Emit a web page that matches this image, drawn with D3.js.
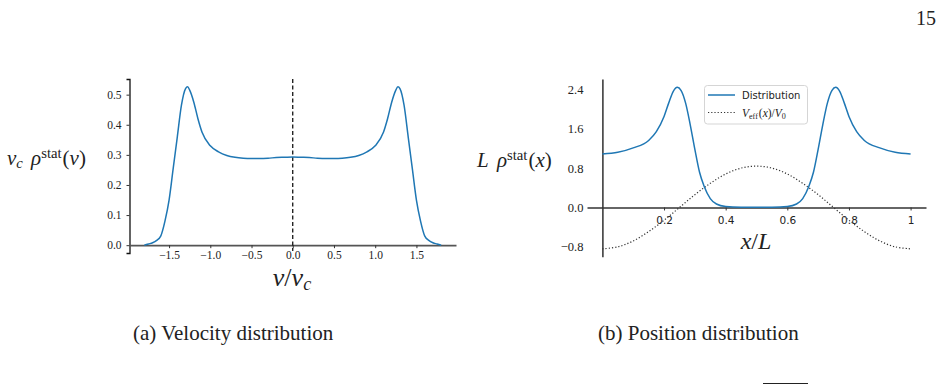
<!DOCTYPE html>
<meta charset="utf-8">
<script src="https://d3js.org/d3.v7.min.js"></script>
<head>
<style>
  body { margin: 0; background: #fff; }
  svg text { fill: #222; }
  .serif { font-family: "Liberation Serif", "DejaVu Serif", serif; }
  .sans { font-family: "DejaVu Sans", sans-serif; }
</style>
</head>
<body>
<div id="viz"></div>
<script>
// ---- data ----
// (a) velocity distribution
const vGrid = [-1.8, -1.75, -1.7, -1.65, -1.6, -1.55, -1.5, -1.45, -1.4, -1.35, -1.3, -1.275, -1.25, -1.2, -1.15, -1.1, -1.0, -0.9, -0.8, -0.7, -0.6, -0.5, -0.4, -0.3, -0.2, -0.1, 0,
               0.1, 0.2, 0.3, 0.4, 0.5, 0.6, 0.7, 0.8, 0.9, 1.0, 1.1, 1.15, 1.2, 1.25, 1.275, 1.3, 1.35, 1.4, 1.45, 1.5, 1.55, 1.6, 1.65, 1.7, 1.75, 1.8];
const vRho  = [0.0, 0.004, 0.008, 0.016, 0.031, 0.08, 0.15, 0.255, 0.36, 0.465, 0.52, 0.526, 0.515, 0.475, 0.42, 0.375, 0.33, 0.31, 0.298, 0.292, 0.289, 0.288, 0.288, 0.289, 0.291, 0.292, 0.293,
               0.292, 0.291, 0.289, 0.288, 0.288, 0.289, 0.292, 0.298, 0.31, 0.33, 0.375, 0.42, 0.475, 0.515, 0.526, 0.52, 0.465, 0.36, 0.255, 0.15, 0.08, 0.031, 0.016, 0.008, 0.004, 0.0];
const vTicksX = [-1.5, -1.0, -0.5, 0.0, 0.5, 1.0, 1.5];
const vTicksY = [0.0, 0.1, 0.2, 0.3, 0.4, 0.5];

// (b) position distribution
const xGrid = [0, 0.05, 0.1, 0.15, 0.175, 0.2, 0.215, 0.23, 0.243, 0.255, 0.27, 0.285, 0.3, 0.315, 0.33, 0.35, 0.37, 0.4, 0.45, 0.5,
               0.55, 0.6, 0.63, 0.65, 0.67, 0.685, 0.7, 0.715, 0.73, 0.745, 0.757, 0.77, 0.785, 0.8, 0.825, 0.85, 0.9, 0.95, 1.0];
const xRho  = [1.085, 1.12, 1.21, 1.36, 1.54, 1.85, 2.12, 2.36, 2.44, 2.38, 2.12, 1.68, 1.18, 0.72, 0.43, 0.18, 0.07, 0.02, 0.005, 0.003,
               0.005, 0.02, 0.07, 0.18, 0.43, 0.72, 1.18, 1.68, 2.12, 2.38, 2.44, 2.36, 2.12, 1.85, 1.54, 1.36, 1.21, 1.12, 1.085];
const vGridX = [0, 0.05, 0.1, 0.15, 0.2, 0.25, 0.3, 0.35, 0.4, 0.45, 0.5, 0.55, 0.6, 0.65, 0.7, 0.75, 0.8, 0.85, 0.9, 0.95, 1.0];
const vEff   = [-0.84, -0.80, -0.68, -0.49, -0.26, 0.0, 0.26, 0.49, 0.68, 0.80, 0.84, 0.80, 0.68, 0.49, 0.26, 0.0, -0.26, -0.49, -0.68, -0.80, -0.84];
const xTicksX = [0.2, 0.4, 0.6, 0.8, 1];
const xTicksY = [-0.8, 0.0, 0.8, 1.6, 2.4];

const blue = "#1f77b4";

const svg = d3.select("#viz").append("svg")
  .attr("width", 940).attr("height", 385);

// small helper for math-ish labels: parts = [text, style] list
function mathText(g, x, y, size, parts, anchor) {
  const t = g.append("text").attr("class", "serif")
    .attr("x", x).attr("y", y)
    .attr("font-size", size)
    .attr("text-anchor", anchor || "start");
  parts.forEach(p => {
    const s = t.append("tspan").text(p.t);
    if (p.i) s.attr("font-style", "italic");
    if (p.sub) s.attr("baseline-shift", "-22%").attr("font-size", size * 0.7);
    if (p.sup) s.attr("baseline-shift", "45%").attr("font-size", size * 0.7);
    if (p.dx) s.attr("dx", p.dx);
  });
  return t;
}

// ================= (a) velocity =================
const xa = d3.scaleLinear().domain([-1.98, 1.98]).range([129.5, 456]);
const ya = d3.scaleLinear().domain([-0.026, 0.552]).range([253, 79]);

const ga = svg.append("g");

// left spine
const axL = ga.append("g").attr("transform", `translate(${xa.range()[0]},0)`)
  .call(d3.axisLeft(ya).tickValues(vTicksY).tickFormat(d3.format(".1f")).tickSize(3).tickPadding(5));
axL.select(".domain").attr("stroke", "#111").attr("stroke-width", 1.3);
axL.selectAll(".tick text").attr("class", "serif").attr("font-size", 11.5).attr("fill", "#333");
axL.selectAll(".tick line").attr("stroke", "#333");

// bottom axis at y = 0
const axB = ga.append("g").attr("transform", `translate(0,${ya(0)})`)
  .call(d3.axisBottom(xa).tickValues(vTicksX).tickFormat(d3.format(".1f")).tickSize(3).tickPadding(3).tickSizeOuter(0));
axB.select(".domain").attr("stroke", "#555").attr("stroke-width", 1.8);
axB.selectAll(".tick text").attr("class", "serif").attr("font-size", 11.5).attr("fill", "#333");
axB.selectAll(".tick line").attr("stroke", "#333");

// dashed line at v = 0
ga.append("line")
  .attr("x1", xa(0)).attr("x2", xa(0))
  .attr("y1", ya.range()[1]).attr("y2", ya.range()[0] - 2)
  .attr("stroke", "#000").attr("stroke-width", 1.2).attr("stroke-dasharray", "4,2.5");

ga.append("path")
  .datum(vGrid.map((v, i) => [v, vRho[i]]))
  .attr("fill", "none").attr("stroke", blue).attr("stroke-width", 1.5)
  .attr("d", d3.line().x(d => xa(d[0])).y(d => ya(d[1])).curve(d3.curveMonotoneX));

mathText(ga, 292, 286, 26, [{t: "v", i: 1}, {t: "/"}, {t: "v", i: 1}, {t: "c", i: 1, sub: 1}], "middle");
mathText(ga, 7, 165, 21, [{t: "v", i: 1}, {t: "c", i: 1, sub: 1}, {t: " ", dx: 3}, {t: "ρ", i: 1}, {t: "stat", sup: 1}, {t: "(", dx: 1}, {t: "v", i: 1}, {t: ")"}]);

// ================= (b) position =================
const xb = d3.scaleLinear().domain([-0.05, 1.05]).range([587, 926]);
const yb = d3.scaleLinear().domain([-1.0, 2.61]).range([256.7, 79]);

const gb = svg.append("g");

const byL = gb.append("g").attr("transform", `translate(${xb(0)},0)`)
  .call(d3.axisLeft(yb).tickValues(xTicksY).tickFormat(d3.format(".1f")).tickSize(0).tickPadding(19));
byL.select(".domain").attr("stroke", "#111").attr("stroke-width", 1.3);
byL.selectAll(".tick text").attr("class", "serif").attr("font-size", 12.5).attr("fill", "#333");

const byB = gb.append("g").attr("transform", `translate(0,${yb(0)})`)
  .call(d3.axisBottom(xb).tickValues(xTicksX).tickFormat(d => d === 1 ? "1" : d3.format(".1f")(d)).tickSize(3).tickPadding(6).tickSizeOuter(0));
byB.select(".domain").attr("stroke", "#333").attr("stroke-width", 1.5);
byB.selectAll(".tick text").attr("class", "sans").attr("font-size", 10.5).attr("fill", "#444");
byB.selectAll(".tick line").attr("stroke", "#333");

gb.append("path")
  .datum(vGridX.map((x, i) => [x, vEff[i]]))
  .attr("fill", "none").attr("stroke", "#333").attr("stroke-width", 1.2)
  .attr("stroke-dasharray", "1.2,2")
  .attr("d", d3.line().x(d => xb(d[0])).y(d => yb(d[1])).curve(d3.curveCatmullRom));

gb.append("path")
  .datum(xGrid.map((x, i) => [x, xRho[i]]))
  .attr("fill", "none").attr("stroke", blue).attr("stroke-width", 1.5)
  .attr("d", d3.line().x(d => xb(d[0])).y(d => yb(d[1])).curve(d3.curveMonotoneX));

// legend
const lg = gb.append("g");
lg.append("rect").attr("x", 704.5).attr("y", 85.5).attr("width", 103).attr("height", 38.5)
  .attr("rx", 3).attr("fill", "#fff").attr("fill-opacity", 0.8)
  .attr("stroke", "#d5d5d5").attr("stroke-width", 1);
lg.append("line").attr("x1", 708).attr("x2", 735).attr("y1", 95).attr("y2", 95)
  .attr("stroke", blue).attr("stroke-width", 1.5);
lg.append("text").attr("class", "sans").attr("x", 742).attr("y", 98.8)
  .attr("font-size", 10).attr("fill", "#222").text("Distribution");
lg.append("line").attr("x1", 708).attr("x2", 735).attr("y1", 112.5).attr("y2", 112.5)
  .attr("stroke", "#333").attr("stroke-width", 1.2).attr("stroke-dasharray", "1.2,2");
mathText(lg, 742, 116.5, 11.5, [{t: "V", i: 1}, {t: "eff", sub: 1}, {t: "(", dx: 1}, {t: "x", i: 1}, {t: ")/"}, {t: "V", i: 1}, {t: "0", sub: 1}]);

mathText(gb, 756, 249, 24, [{t: "x", i: 1}, {t: "/"}, {t: "L", i: 1}], "middle");
mathText(gb, 477, 167, 21, [{t: "L", i: 1}, {t: " ", dx: 3}, {t: "ρ", i: 1}, {t: "stat", sup: 1}, {t: "(", dx: 1}, {t: "x", i: 1}, {t: ")"}]);

// ---- page text ----
svg.append("text").attr("class", "serif").attr("x", 936).attr("y", 25)
  .attr("text-anchor", "end").attr("font-size", 20).text("15");
svg.append("text").attr("class", "serif").attr("x", 133).attr("y", 340)
  .attr("font-size", 21).text("(a) Velocity distribution");
svg.append("text").attr("class", "serif").attr("x", 598).attr("y", 340)
  .attr("font-size", 21).text("(b) Position distribution");
svg.append("line").attr("x1", 763).attr("x2", 808).attr("y1", 383.5).attr("y2", 383.5)
  .attr("stroke", "#222").attr("stroke-width", 1);
</script>
</body>
